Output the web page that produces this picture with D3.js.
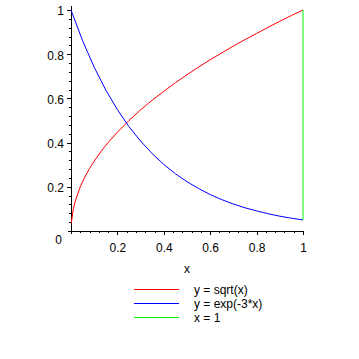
<!DOCTYPE html>
<html><head><meta charset="utf-8">
<script src="https://cdn.jsdelivr.net/npm/d3@7"></script>
<style>
html,body{margin:0;padding:0;background:#fff;}
svg{display:block;}
text{font-family:"Liberation Sans Narrow","Liberation Sans",Arial,sans-serif;fill:#000;}
</style></head>
<body>
<script>
// Data
const sqrtX = [0.0013,0.01,0.02,0.04,0.06,0.08,0.1,0.13,0.16,0.2,0.25,0.3,0.35,0.4,0.45,0.5,0.55,0.6,0.65,0.7,0.75,0.8,0.85,0.9,0.95,1.0];
const sqrtY = [0.036,0.10,0.141,0.2,0.245,0.283,0.316,0.361,0.4,0.447,0.5,0.548,0.592,0.632,0.671,0.707,0.742,0.775,0.806,0.837,0.866,0.894,0.922,0.949,0.975,1.0];
const expX = [0,0.05,0.1,0.15,0.2,0.25,0.3,0.35,0.4,0.45,0.5,0.55,0.6,0.65,0.7,0.75,0.8,0.85,0.9,0.95,1.0];
const expY = [1,0.861,0.741,0.638,0.549,0.472,0.407,0.350,0.301,0.259,0.223,0.192,0.165,0.142,0.122,0.105,0.091,0.078,0.067,0.058,0.050];
const vertX = [1,1];
const vertY = [0.05,1];
const xTicks = [0.2,0.4,0.6,0.8,1];
const yTicks = [0.2,0.4,0.6,0.8,1];
const xTickLabels = ["0.2","0.4","0.6","0.8","1"];
const yTickLabels = ["0.2","0.4","0.6","0.8","1"];
const minorTicks = [0.04,0.08,0.12,0.16,0.24,0.28,0.32,0.36,0.44,0.48,0.52,0.56,0.64,0.68,0.72,0.76,0.84,0.88,0.92,0.96];
const seriesNames = ["y = sqrt(x)","y = exp(-3*x)","x = 1"];
const seriesColors = ["#ff0000","#0000ff","#00ff00"];

const W = 359, H = 359;
const svg = d3.select("body").append("svg").attr("width",W).attr("height",H);
const x = d3.scaleLinear().domain([0,1]).range([71,303]);
const y = d3.scaleLinear().domain([0,1]).range([231,10]);

// axis lines
svg.append("line").attr("x1",x(0)).attr("x2",x(0)).attr("y1",y(0)+3).attr("y2",y(1.018))
  .attr("stroke","#000").attr("stroke-width",1).attr("shape-rendering","crispEdges");
svg.append("line").attr("x1",x(-0.013)).attr("x2",x(1)+0.5).attr("y1",y(0)).attr("y2",y(0))
  .attr("stroke","#000").attr("stroke-width",1).attr("shape-rendering","crispEdges");

// y axis
const yAx = svg.append("g").attr("transform",`translate(${x(0)},0)`)
  .call(d3.axisLeft(y).tickValues(yTicks).tickSize(4).tickPadding(3)
    .tickFormat((d,i)=>yTickLabels[i]));
const yMin = svg.append("g").attr("transform",`translate(${x(0)},0)`)
  .call(d3.axisLeft(y).tickValues(minorTicks).tickSize(2).tickFormat(""));
// x axis
const xAx = svg.append("g").attr("transform",`translate(0,${y(0)})`)
  .call(d3.axisBottom(x).tickValues(xTicks).tickSize(4).tickPadding(8)
    .tickFormat((d,i)=>xTickLabels[i]));
const xMin = svg.append("g").attr("transform",`translate(0,${y(0)})`)
  .call(d3.axisBottom(x).tickValues(minorTicks).tickSize(2).tickFormat(""));
[yAx,yMin,xAx,xMin].forEach(g=>{
  g.select(".domain").remove();
  g.selectAll("line").attr("stroke","#000").attr("shape-rendering","crispEdges");
  g.selectAll("text").attr("font-size",12).attr("font-family",null);
});
yAx.selectAll("text").attr("dy","0.4em");

// corner 0
svg.append("text").attr("x",58.5).attr("y",244).attr("text-anchor","middle").attr("font-size",12).text("0");
// x axis title
svg.append("text").attr("x",(x(0)+x(1))/2).attr("y",273).attr("text-anchor","middle").attr("font-size",12).text("x");

// curves
const line = d3.line().x(d=>x(d[0])).y(d=>y(d[1]));
const series = [
  d3.zip(sqrtX,sqrtY),
  d3.zip(expX,expY),
  d3.zip(vertX,vertY)
];
series.forEach((s,i)=>{
  svg.append("path").datum(s).attr("d",line).attr("fill","none")
    .attr("stroke",seriesColors[i]).attr("stroke-width",1);
});

// legend
const legY = [289,303,317];
seriesNames.forEach((n,i)=>{
  svg.append("line").attr("x1",134).attr("x2",179).attr("y1",legY[i]).attr("y2",legY[i])
    .attr("stroke",seriesColors[i]).attr("stroke-width",1).attr("shape-rendering","crispEdges");
  svg.append("text").attr("x",194).attr("y",legY[i]+4.5).attr("font-size",12).text(n);
});
</script>
</body></html>
